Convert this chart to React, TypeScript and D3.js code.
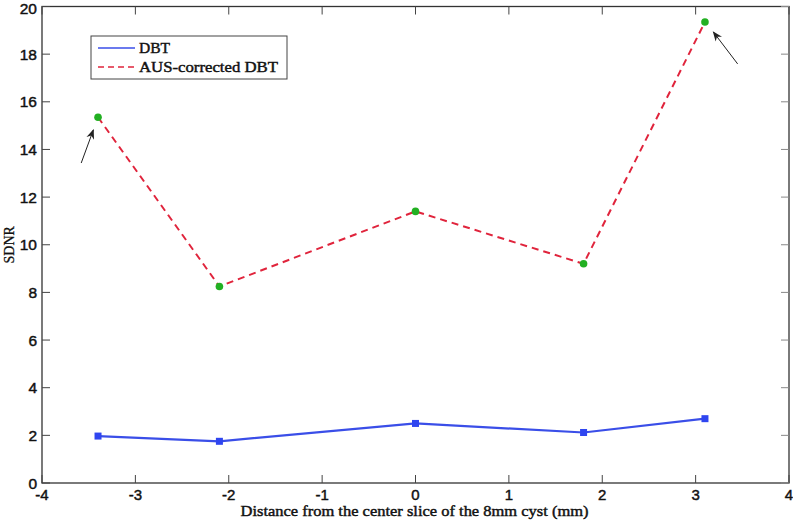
import React from "react";
import * as d3 from "d3";

const distances = [-3.4, -2.1, 0, 1.8, 3.1];
const dbtValues = [1.97, 1.75, 2.5, 2.12, 2.7];
const ausValues = [15.35, 8.25, 11.4, 9.2, 19.35];
const xTicks = [-4, -3, -2, -1, 0, 1, 2, 3, 4];
const yTicks = [0, 2, 4, 6, 8, 10, 12, 14, 16, 18, 20];
const seriesNames = ["DBT", "AUS-corrected DBT"];
const xLabel = "Distance from the center slice of the 8mm cyst (mm)";
const yLabel = "SDNR";
// annotation arrows (tail -> head), data coordinates
const arrowTails = [[-3.58, 13.43], [3.45, 17.59]];
const arrowHeads = [[-3.45, 14.82], [3.19, 18.93]];

const W = 793, H = 520;
const L = 42, R = 789, T = 6.5, B = 483;

export default function App() {
  const x = d3.scaleLinear().domain([-4, 4]).range([L, R]);
  const y = d3.scaleLinear().domain([0, 20]).range([B, T]);
  const line = d3.line<number>().x((_, i) => x(distances[i])).y((d) => y(d));
  const tickLen = 8;
  const tickFont = "'Liberation Sans', Arial, sans-serif";
  const serif = "'Liberation Serif', 'Times New Roman', serif";
  const heavy = { stroke: "#111", strokeWidth: 0.45 };

  return (
    <svg width={W} height={H} style={{ position: "absolute", left: 0, top: 0, background: "#fff" }}>
      <defs>
        <marker id="ah" viewBox="0 0 10 10" refX="9" refY="5" markerWidth="10" markerHeight="10" orient="auto" markerUnits="userSpaceOnUse">
          <path d="M0,1 L10,5 L0,9 L3,5 Z" fill="#222" />
        </marker>
      </defs>
      <rect x={L} y={T} width={R - L} height={B - T} fill="#fff" stroke="#333" strokeWidth={1.3} />
      {xTicks.map((t) => (
        <g key={"x" + t}>
          <line x1={x(t)} x2={x(t)} y1={B} y2={B - tickLen} stroke="#444" />
          <line x1={x(t)} x2={x(t)} y1={T} y2={T + tickLen} stroke="#444" />
          <text x={x(t)} y={B + 16.5} textAnchor="middle" fontFamily={tickFont} fontSize={15} fill="#111" {...heavy}>
            {t}
          </text>
        </g>
      ))}
      {yTicks.map((t) => (
        <g key={"y" + t}>
          <line x1={L} x2={L + tickLen} y1={y(t)} y2={y(t)} stroke="#444" />
          <line x1={R} x2={R - tickLen} y1={y(t)} y2={y(t)} stroke="#888" />
          <text x={L - 5} y={Math.max(y(t) + 5.5, 14)} textAnchor="end" fontFamily={tickFont} fontSize={15.5} fill="#111" {...heavy}>
            {t}
          </text>
        </g>
      ))}
      <text x={(L + R) / 2 - 1} y={516} textAnchor="middle" fontFamily={serif} fontSize={15.5} fill="#111" {...heavy} textLength={348} lengthAdjust="spacingAndGlyphs">
        {xLabel}
      </text>
      <text transform={`translate(14, ${(T + B) / 2}) rotate(-90)`} textAnchor="middle" fontFamily={serif} fontSize={14} fill="#111" stroke="#111" strokeWidth={0.3}>
        {yLabel}
      </text>

      <path d={line(dbtValues) || ""} fill="none" stroke="#3a4ee8" strokeWidth={2.2} />
      {dbtValues.map((v, i) => (
        <rect key={"b" + i} x={x(distances[i]) - 3.5} y={y(v) - 3.5} width={7} height={7} fill="#2f45f0" />
      ))}
      <path d={line(ausValues) || ""} fill="none" stroke="#e0243c" strokeWidth={2} strokeDasharray="7,5" />
      {ausValues.map((v, i) => (
        <circle key={"r" + i} cx={x(distances[i])} cy={y(v)} r={3.8} fill="#22b022" />
      ))}

      {arrowTails.map((a, i) => (
        <line key={"a" + i} x1={x(a[0])} y1={y(a[1])} x2={x(arrowHeads[i][0])} y2={y(arrowHeads[i][1])} stroke="#222" strokeWidth={1} markerEnd="url(#ah)" />
      ))}

      <g>
        <rect x={91} y={36} width={196} height={43} fill="#fff" stroke="#444" strokeWidth={1} />
        <line x1={98} x2={135} y1={48} y2={48} stroke="#3a4ee8" strokeWidth={1.6} />
        <text x={139} y={53} fontFamily={serif} fontSize={15.5} fill="#111" {...heavy}>{seriesNames[0]}</text>
        <line x1={98} x2={135} y1={67} y2={67} stroke="#e0243c" strokeWidth={1.6} strokeDasharray="6,4" />
        <text x={139} y={72} fontFamily={serif} fontSize={15.5} fill="#111" {...heavy} textLength={139} lengthAdjust="spacingAndGlyphs">{seriesNames[1]}</text>
      </g>
    </svg>
  );
}
